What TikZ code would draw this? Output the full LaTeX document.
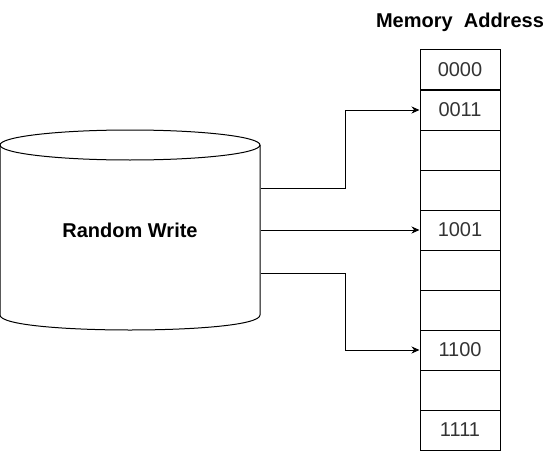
\documentclass[tikz,border=0pt]{standalone}
\usepackage{fontspec}
\setmainfont{Liberation Sans}
\usetikzlibrary{arrows.meta}
\definecolor{celltext}{RGB}{51,51,51}
\tikzset{
  cell/.style={draw, minimum width=80pt, minimum height=40pt, inner sep=0pt, text=celltext, font=\fontsize{20}{24}\selectfont},
  link/.style={-{Stealth[length=8pt,width=7pt]}},
  bold/.style={font=\fontsize{20}{24}\selectfont\bfseries}
}
\begin{document}
\begin{tikzpicture}[x=1pt,y=-1pt,line width=1pt]
    \useasboundingbox (0,0) rectangle (557,452);
    % disk
    \draw (130,145) ellipse [x radius=130, y radius=15];
    \draw (0,145) -- (0,315) .. controls (0,335) and (260,335) .. (260,315) -- (260,145);
    \node[bold, minimum width=260pt, minimum height=170pt, inner sep=0pt] (disk) at (130,230) {Random Write};
    % memory cells
    \node[bold] (title) at (460,22) {Memory\ \ Address};
    \foreach \i/\lab in {1/0000,2/0011,3/{},4/{},5/1001,6/{},7/{},8/1100,9/{},10/1111}
        \node[cell] (c\i) at (460,{30+40*\i}) {\lab};
    % writes
    \draw[link] ([yshift=42pt]disk.east) -- ++(85,0) |- (c2.west);
    \draw[link] (disk.east) -- (c5.west);
    \draw[link] ([yshift=-43pt]disk.east) -- ++(85,0) |- (c8.west);
\end{tikzpicture}
\end{document}
